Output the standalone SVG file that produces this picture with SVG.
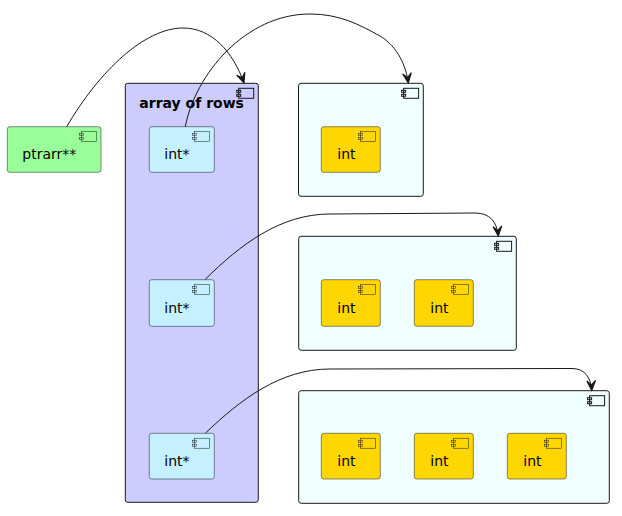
<svg xmlns="http://www.w3.org/2000/svg" xmlns:xlink="http://www.w3.org/1999/xlink" width="622" height="516" viewBox="0 0 622 516">
<style>
text{font-family:"DejaVu Sans","Liberation Sans",sans-serif;font-size:14px;fill:#000}
.title{font-weight:bold}
.outer{stroke:#181818;stroke-width:1}
.inner{stroke:#181818;stroke-width:0.5}
.edge{fill:none;stroke:#181818;stroke-width:1}
</style>
<defs>
<marker id="ah" markerUnits="userSpaceOnUse" markerWidth="12" markerHeight="12" viewBox="-10 -5 11 10" refX="0" refY="0" orient="auto">
<path d="M0,0 L-9,-4 L-5,0 L-9,4 Z" fill="#181818" stroke="#181818" stroke-width="1"/>
</marker>
<g id="icoO" fill="none" stroke="#181818" stroke-width="1">
<rect x="0" y="0" width="15" height="10"/>
<rect x="-2" y="2" width="4" height="2"/>
<rect x="-2" y="6" width="4" height="2"/>
</g>
<g id="icoI" fill="none" stroke="#181818" stroke-width="0.5">
<rect x="0" y="0" width="15" height="10"/>
<rect x="-2" y="2" width="4" height="2"/>
<rect x="-2" y="6" width="4" height="2"/>
</g>
</defs>

<g id="ptrarr">
<rect x="7.3" y="126.7" width="93.7" height="45.6" rx="2.5" fill="#99FF99" class="inner"/>
<use xlink:href="#icoI" x="81.3" y="131.5"/>
<text x="22.3" y="159">ptrarr**</text>
</g>

<g id="array_of_rows">
<rect x="125.3" y="83.3" width="133" height="419" rx="2.5" fill="#CCCCFF" class="outer"/>
<use xlink:href="#icoO" x="238.7" y="88.3"/>
<text class="title" x="139.3" y="108">array of rows</text>
</g>

<g id="row0">
<rect x="149.3" y="126.7" width="65" height="45.6" rx="2.5" fill="#C4F0FF" class="inner"/>
<use xlink:href="#icoI" x="194.6" y="131.5"/>
<text x="164.3" y="159">int*</text>
</g>
<g id="row1">
<rect x="149.3" y="279.7" width="65" height="46.6" rx="2.5" fill="#C4F0FF" class="inner"/>
<use xlink:href="#icoI" x="194.6" y="284.5"/>
<text x="164.3" y="313">int*</text>
</g>
<g id="row2">
<rect x="149.3" y="433.3" width="65" height="45.7" rx="2.5" fill="#C4F0FF" class="inner"/>
<use xlink:href="#icoI" x="194.6" y="438.2"/>
<text x="164.3" y="466">int*</text>
</g>

<g id="ints1">
<rect x="298.5" y="83.3" width="124.8" height="113" rx="2.5" fill="#F0FFFF" class="outer"/>
<use xlink:href="#icoO" x="403.6" y="88.3"/>
</g>
<g id="i1_0">
<rect x="321.3" y="126.7" width="59" height="45.6" rx="2.5" fill="#FFD700" class="inner"/>
<use xlink:href="#icoI" x="360.6" y="131.5"/>
<text x="337.3" y="159">int</text>
</g>

<g id="ints2">
<rect x="298.7" y="236.3" width="217.6" height="114" rx="2.5" fill="#F0FFFF" class="outer"/>
<use xlink:href="#icoO" x="496.6" y="241.3"/>
</g>
<g id="i2_0">
<rect x="321.3" y="279.7" width="59" height="46.6" rx="2.5" fill="#FFD700" class="inner"/>
<use xlink:href="#icoI" x="360.6" y="284.5"/>
<text x="337.3" y="313">int</text>
</g>
<g id="i2_1">
<rect x="414.3" y="279.7" width="59" height="46.6" rx="2.5" fill="#FFD700" class="inner"/>
<use xlink:href="#icoI" x="453.6" y="284.5"/>
<text x="430.3" y="313">int</text>
</g>

<g id="ints3">
<rect x="298.7" y="390.7" width="310.6" height="112.6" rx="2.5" fill="#F0FFFF" class="outer"/>
<use xlink:href="#icoO" x="589.6" y="395.7"/>
</g>
<g id="i3_0">
<rect x="321.3" y="433.3" width="59" height="45.7" rx="2.5" fill="#FFD700" class="inner"/>
<use xlink:href="#icoI" x="360.6" y="438.2"/>
<text x="337.3" y="466">int</text>
</g>
<g id="i3_1">
<rect x="414.3" y="433.3" width="59" height="45.7" rx="2.5" fill="#FFD700" class="inner"/>
<use xlink:href="#icoI" x="453.6" y="438.2"/>
<text x="430.3" y="466">int</text>
</g>
<g id="i3_2">
<rect x="507.3" y="433.3" width="59" height="45.7" rx="2.5" fill="#FFD700" class="inner"/>
<use xlink:href="#icoI" x="546.6" y="438.2"/>
<text x="523.3" y="466">int</text>
</g>

<g id="connectors">
<path class="edge" marker-end="url(#ah)" d="M66.7,126.7 C100,70 145,28 183,28 C212,28 233,52 244,83"/>
<path class="edge" marker-end="url(#ah)" d="M185.3,126.7 C195,75 245,14 310,14 C340,14 360,25 380,36 C398,47 406,66 408.3,83"/>
<path class="edge" marker-end="url(#ah)" d="M205.3,279.3 C240,245 280,214 330,214 L475,213 C490,213 497,222 498.3,236"/>
<path class="edge" marker-end="url(#ah)" d="M205.3,433.3 C240,400 280,369 330,369 L572,368.5 C585,368.5 591,378 591.7,390.5"/>
</g>
</svg>
